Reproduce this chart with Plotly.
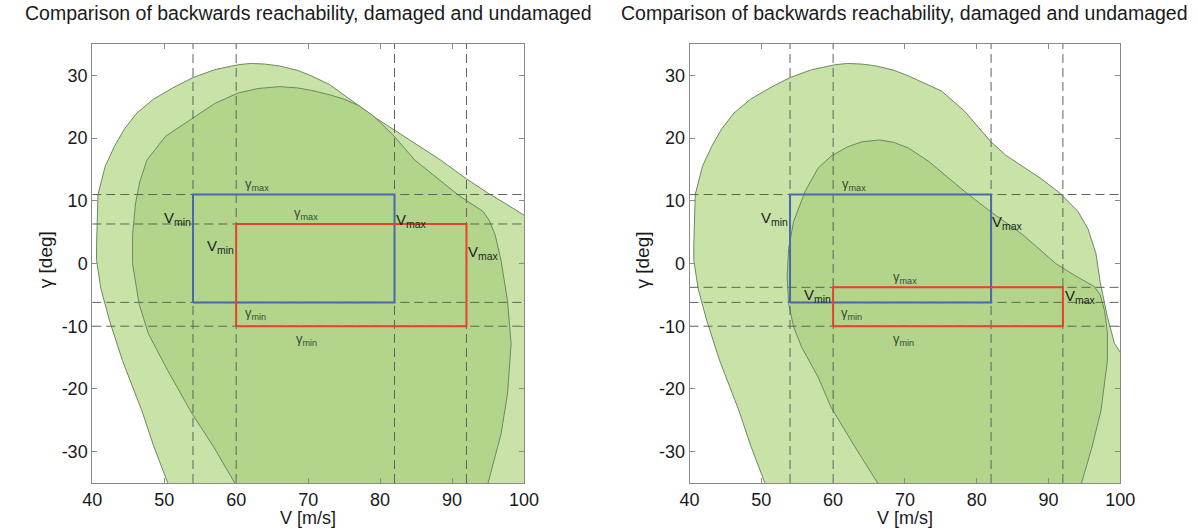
import plotly.graph_objects as go

W, H = 1198, 529

# ---------------- data ----------------
title_text = "Comparison of backwards reachability, damaged and undamaged"
x_ticks = [40, 50, 60, 70, 80, 90, 100]
x_tick_labels = ["40", "50", "60", "70", "80", "90", "100"]
y_ticks = [-30, -20, -10, 0, 10, 20, 30]
y_tick_labels = ["-30", "-20", "-10", "0", "10", "20", "30"]
x_range = [40, 100]
y_range = [-35, 35]

# left panel, outer (light) reachable set
outer_L_V = [51.1, 50.5, 48.5, 46.9, 44.2, 42.4, 41.2, 40.6, 40.6, 40.8, 41.8, 43.1, 44.5, 46.2, 48.5,
             51.2, 53.9, 57.0, 60.3, 62.0, 64.0, 66.0, 68.5, 70.5, 73.0, 75.0, 77.0, 79.0, 84.0, 88.4,
             92.0, 95.0, 97.5, 100.0, 102.0, 104.0, 104.0]
outer_L_g = [-37, -35, -29, -23.5, -15.5, -9.1, -4, 0.5, 3, 11, 15.5, 18.7, 21.5, 24, 26.2,
             28, 29.6, 30.9, 31.7, 31.9, 31.8, 31.5, 30.8, 29.9, 28.5, 26.9, 25.2, 23.5, 19.8, 16.5,
             13.5, 11.2, 9.5, 7.7, 6.0, 5.0, -37]
# left panel, inner (dark) reachable set
inner_L_V = [60.3, 59.8, 56.9, 53.9, 50.5, 47.8, 46.5, 45.6, 45.6, 46.0, 46.6, 47.6, 50.2, 53.9, 57.0,
             60.3, 63.0, 66.0, 68.5, 70.5, 73.0, 75.0, 77.0, 79.0, 81.8, 84.8, 88.0, 91.0, 94.3, 95.2,
             96.0, 96.8, 97.7, 98.2, 97.7, 96.8, 95.0, 94.7]
inner_L_g = [-37, -35, -29.3, -24, -17.1, -11.2, -6.4, 0, 4.5, 9.5, 13, 16.5, 20.3, 23.2, 25.5,
             27.2, 27.9, 28.2, 28.0, 27.6, 26.9, 26.2, 25.2, 23.6, 20.5, 16.5, 13.5, 10.8, 8.3, 6.8,
             4.5, 0.5, -5.9, -12.8, -20.8, -27.2, -35, -37]

# right panel, outer (light) reachable set
outer_R_V = [51.1, 50.5, 48.5, 46.9, 44.2, 42.4, 41.2, 40.6, 40.6, 40.8, 41.8, 43.1, 44.5, 46.2, 48.5,
             51.2, 53.9, 57.0, 60.3, 62.0, 64.0, 66.0, 68.5, 70.5, 73.0, 75.1, 78.3, 81.9, 84.0, 86.4,
             89.0, 91.6, 94.1, 95.5, 96.6, 97.2, 98.2, 99.2, 100.5, 103.0, 104.0]
outer_R_g = [-37, -35, -29, -23.5, -15.5, -9.1, -4, 0.5, 3, 11, 15.5, 18.7, 21.5, 24, 26.2,
             28, 29.6, 30.9, 31.7, 31.9, 31.8, 31.5, 30.8, 29.9, 28.6, 27.5, 24.3, 19.5, 17.3, 15.5,
             13.5, 11.2, 8.3, 5.5, 1.6, -3, -8.5, -12.8, -15, -18, -37]
# right panel, inner (dark) reachable set
inner_R_V = [66.4, 66.2, 62.8, 59.7, 57.9, 55.6, 54.5, 53.8, 53.6, 53.8, 54.5, 56.1, 57.9, 59.7, 62.0,
             64.0, 66.5, 68.5, 70.5, 73.3, 78.3, 81.9, 86.4, 91.0, 93.5, 96.4, 97.2, 97.8, 98.2, 98.2,
             97.3, 96.0, 94.6, 94.3]
inner_R_g = [-37, -35, -28.8, -22.9, -18.1, -13.3, -10.1, -6.4, -2, 2.4, 6.7, 11.5, 15.2, 17.1, 18.6,
             19.4, 19.7, 19.3, 18.4, 16.3, 11.5, 8.3, 4.6, 0.0, -1.8, -3.7, -5.0, -7.5, -11, -15.5,
             -23.5, -29.5, -35, -37]

# envelope limits [Vmin, Vmax, gmin, gmax]
blue_L = [54, 82, -6.2, 11]
red_L = [60, 92, -10, 6.3]
blue_R = [54, 82, -6.2, 11]
red_R = [60, 92, -10, -3.8]

# label annotations (text, V, gamma, anchor)
labels_L = [("γ<sub>max</sub>", 61, 12.6, "left"), ("V<sub>min</sub>", 54, 7.2, "right"),
            ("γ<sub>max</sub>", 67.8, 7.9, "left"), ("V<sub>max</sub>", 81.9, 6.8, "left"),
            ("V<sub>min</sub>", 60, 2.7, "right"), ("V<sub>max</sub>", 92, 1.8, "left"),
            ("γ<sub>min</sub>", 61, -7.9, "left"), ("γ<sub>min</sub>", 68, -12.1, "left")]
labels_R = [("γ<sub>max</sub>", 61, 12.6, "left"), ("V<sub>min</sub>", 54, 7.2, "right"),
            ("V<sub>max</sub>", 81.9, 6.6, "left"), ("γ<sub>max</sub>", 68.1, -2.3, "left"),
            ("V<sub>min</sub>", 60, -5.1, "right"), ("V<sub>max</sub>", 92, -5.3, "left"),
            ("γ<sub>min</sub>", 60.8, -7.9, "left"), ("γ<sub>min</sub>", 68, -12.1, "left")]

# ---------------- styles ----------------
LIGHT = "#c8e2a8"
DARK = "#b2d58b"
EDGE = "#6a8a5e"
DASH = "#5f635c"
BLUE = "#4a68ad"
RED = "#e8412c"
FONT = "Liberation Sans, Arial, sans-serif"

fig = go.Figure()

panels = [
    ("x", "y", outer_L_V, outer_L_g, inner_L_V, inner_L_g, blue_L, red_L, labels_L),
    ("x2", "y2", outer_R_V, outer_R_g, inner_R_V, inner_R_g, blue_R, red_R, labels_R),
]

for xa, ya, oV, og, iV, ig, blue, red, labels in panels:
    fig.add_trace(go.Scatter(x=oV, y=og, fill="toself", fillcolor=LIGHT, mode="lines",
                             line=dict(color=EDGE, width=1), xaxis=xa, yaxis=ya, hoverinfo="skip"))
    fig.add_trace(go.Scatter(x=iV, y=ig, fill="toself", fillcolor=DARK, mode="lines",
                             line=dict(color=EDGE, width=1), xaxis=xa, yaxis=ya, hoverinfo="skip"))
    vlines = sorted(set([blue[0], blue[1], red[0], red[1]]))
    glines = sorted(set([blue[2], blue[3], red[2], red[3]]))
    for v in vlines:
        fig.add_trace(go.Scatter(x=[v, v], y=y_range, mode="lines",
                                 line=dict(color=DASH, width=1, dash="9px,5px"),
                                 xaxis=xa, yaxis=ya, hoverinfo="skip"))
    for g in glines:
        fig.add_trace(go.Scatter(x=x_range, y=[g, g], mode="lines",
                                 line=dict(color=DASH, width=1, dash="9px,5px"),
                                 xaxis=xa, yaxis=ya, hoverinfo="skip"))
    for lim, col in ((blue, BLUE), (red, RED)):
        fig.add_trace(go.Scatter(x=[lim[0], lim[1], lim[1], lim[0], lim[0]],
                                 y=[lim[2], lim[2], lim[3], lim[3], lim[2]],
                                 mode="lines", line=dict(color=col, width=2),
                                 xaxis=xa, yaxis=ya, hoverinfo="skip"))
    for txt, v, g, anc in labels:
        is_v = txt.startswith("V")
        fig.add_annotation(x=v, y=g, xref=xa, yref=ya, text=txt, showarrow=False,
                           xanchor=anc, yanchor="middle",
                           font=dict(family=FONT, size=15 if is_v else 13,
                                     color="#1e1e1e" if is_v else "#3b4a33"))

xdoms = [[84 / W, 525 / W], [694 / W, 1134 / W]]
ydom = [1 - 483 / H, 1 - 44 / H]

axis_common = dict(showline=True, mirror="ticks", linecolor="#8a8a8a", linewidth=1,
                   ticks="inside", ticklen=5, tickcolor="#8a8a8a", showgrid=False,
                   zeroline=False, tickfont=dict(family=FONT, size=18, color="#1a1a1a"))

layout = dict(width=W, height=H, margin=dict(l=0, r=0, t=0, b=0), showlegend=False,
              paper_bgcolor="white", plot_bgcolor="white")
for i, xa in enumerate(["xaxis", "xaxis2"]):
    layout[xa] = dict(domain=xdoms[i], range=x_range, tickvals=x_ticks, ticktext=x_tick_labels,
                      anchor="y" if i == 0 else "y2", **axis_common)
for i, ya in enumerate(["yaxis", "yaxis2"]):
    layout[ya] = dict(domain=ydom, range=y_range, tickvals=y_ticks, ticktext=y_tick_labels,
                      anchor="x" if i == 0 else "x2", **axis_common)
fig.update_layout(**layout)

for i in range(2):
    cx = (xdoms[i][0] + xdoms[i][1]) / 2
    fig.add_annotation(x=cx, y=1 - 13 / H, xref="paper", yref="paper", text=title_text,
                       showarrow=False, xanchor="center", yanchor="middle",
                       font=dict(family=FONT, size=19.5, color="#1a1a1a"))
    fig.add_annotation(x=cx, y=0, xref="paper", yref="paper", text="V [m/s]",
                       showarrow=False, xanchor="center", yanchor="bottom", yshift=-1,
                       font=dict(family=FONT, size=18, color="#1a1a1a"))
    fig.add_annotation(x=(36 if i == 0 else 645) / W, y=1 - 260 / H, xref="paper", yref="paper",
                       text="γ [deg]", textangle=-90, showarrow=False,
                       xanchor="center", yanchor="middle",
                       font=dict(family=FONT, size=19, color="#1a1a1a"))

fig.write_html("out.html")
